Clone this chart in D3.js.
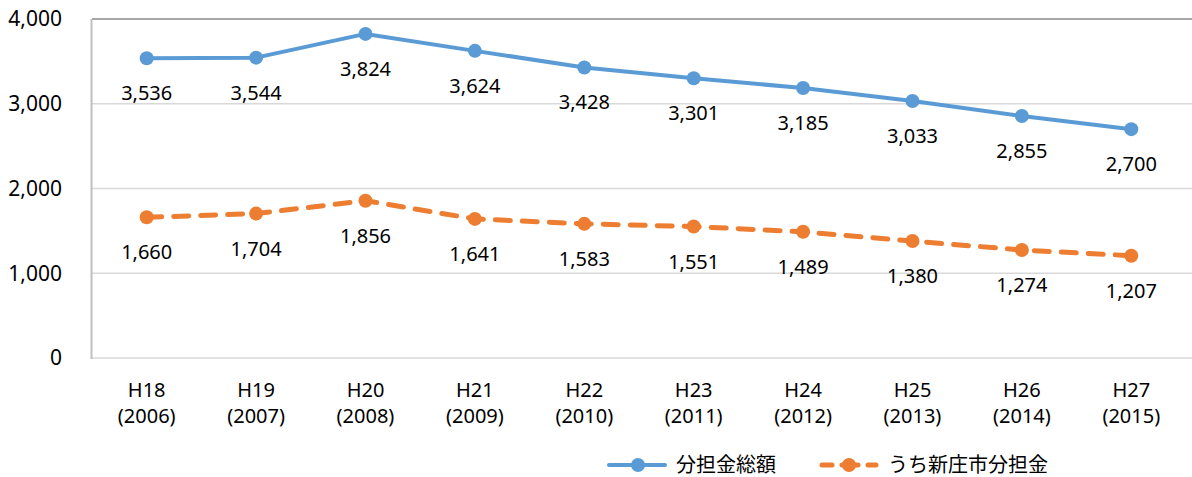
<!DOCTYPE html>
<html>
<head>
<meta charset="utf-8">
<script src="https://cdn.jsdelivr.net/npm/d3@7"></script>
<style>
  html, body { margin: 0; padding: 0; background: #fff; }
  svg text { font-family: "Noto Sans", "Noto Sans CJK JP", sans-serif; fill: #000; }
</style>
</head>
<body>
<div id="vis"></div>
<script>
// Line chart: total burden vs Shinjo city share, H18–H27.

const YEARS  = ["H18", "H19", "H20", "H21", "H22", "H23", "H24", "H25", "H26", "H27"];
const WESTERN = ["2006", "2007", "2008", "2009", "2010", "2011", "2012", "2013", "2014", "2015"];
const TOTAL  = [3536, 3544, 3824, 3624, 3428, 3301, 3185, 3033, 2855, 2700];
const SHINJO = [1660, 1704, 1856, 1641, 1583, 1551, 1489, 1380, 1274, 1207];
const Y_TICKS = [0, 1000, 2000, 3000, 4000];

const SERIES = [
  { name: "分担金総額",       values: TOTAL,  color: "#5b9bd5", dash: null },
  { name: "うち新庄市分担金", values: SHINJO, color: "#ed7d31", dash: "15,12" },
];

const W = 1192, H = 477;
const margin = { top: 19, right: 6, bottom: 119, left: 92 };
const innerW = W - margin.left - margin.right;
const innerH = H - margin.top - margin.bottom;

const x = d3.scaleBand().domain(YEARS).range([0, innerW]);
const y = d3.scaleLinear().domain([0, 4000]).range([innerH, 0]);
const fmt = d3.format(",");

const svg = d3.select("#vis").append("svg")
  .attr("width", W).attr("height", H);

const g = svg.append("g")
  .attr("transform", `translate(${margin.left},${margin.top})`);

// gridlines
g.append("g").selectAll("line")
  .data(Y_TICKS)
  .join("line")
    .attr("x1", 0).attr("x2", innerW + margin.right)
    .attr("y1", d => y(d)).attr("y2", d => y(d))
    .attr("stroke", d => d === 4000 ? "#a6a6a6" : "#d9d9d9")
    .attr("stroke-width", d => d === 4000 ? 2 : 1.5);

// left axis line
g.append("line")
  .attr("x1", -0.5).attr("x2", -0.5)
  .attr("y1", y(4000)).attr("y2", y(0) + 1)
  .attr("stroke", "#bfbfbf").attr("stroke-width", 2);

// y tick labels
g.append("g").selectAll("text")
  .data(Y_TICKS)
  .join("text")
    .attr("x", -30)
    .attr("y", d => y(d))
    .attr("dy", "0.35em")
    .attr("text-anchor", "end")
    .style("font-size", "21px")
    .text(d => fmt(d));

// x tick labels
const xl = g.append("g").selectAll("text")
  .data(YEARS)
  .join("text")
    .attr("text-anchor", "middle")
    .style("font-size", "20px");
xl.append("tspan")
  .attr("x", d => x(d) + x.bandwidth() / 2)
  .attr("y", innerH + 39)
  .text(d => d);
xl.append("tspan")
  .attr("x", d => x(d) + x.bandwidth() / 2)
  .attr("y", innerH + 65)
  .text((d, i) => `(${WESTERN[i]})`);

// series
const line = d3.line()
  .x((d, i) => x(YEARS[i]) + x.bandwidth() / 2)
  .y(d => y(d));

SERIES.forEach(s => {
  g.append("path")
    .datum(s.values)
    .attr("d", line)
    .attr("fill", "none")
    .attr("stroke", s.color)
    .attr("stroke-width", s.dash ? 5 : 4)
    .attr("stroke-linecap", "round")
    .attr("stroke-linejoin", "round")
    .attr("stroke-dasharray", s.dash);

  g.append("g").selectAll("circle")
    .data(s.values)
    .join("circle")
      .attr("cx", (d, i) => x(YEARS[i]) + x.bandwidth() / 2)
      .attr("cy", d => y(d))
      .attr("r", 7)
      .attr("fill", s.color);

  g.append("g").selectAll("text")
    .data(s.values)
    .join("text")
      .attr("x", (d, i) => x(YEARS[i]) + x.bandwidth() / 2)
      .attr("y", d => y(d) + 42)
      .attr("text-anchor", "middle")
      .style("font-size", "20px")
      .text(d => fmt(d));
});

// legend
const legend = svg.append("g").attr("transform", "translate(0,465)");
const LEG_X = [607, 820];
SERIES.forEach((s, i) => {
  const lg = legend.append("g").attr("transform", `translate(${LEG_X[i]},0)`);
  if (s.dash) {
    [[2, 12], [48, 56]].forEach(([a, b]) =>
      lg.append("line").attr("x1", a).attr("x2", b).attr("y1", 0).attr("y2", 0)
        .attr("stroke", s.color).attr("stroke-width", 5).attr("stroke-linecap", "round"));
    lg.append("line").attr("x1", 22).attr("x2", 38).attr("y1", 0).attr("y2", 0)
      .attr("stroke", s.color).attr("stroke-width", 5).attr("stroke-linecap", "round");
  } else {
    lg.append("line").attr("x1", 2).attr("x2", 58).attr("y1", 0).attr("y2", 0)
      .attr("stroke", s.color).attr("stroke-width", 4).attr("stroke-linecap", "round");
  }
  lg.append("circle").attr("cx", s.dash ? 29 : 31).attr("cy", 0).attr("r", 7).attr("fill", s.color);
  lg.append("text")
    .attr("x", s.dash ? 68 : 69).attr("y", 0).attr("dy", "0.35em")
    .style("font-size", "20px")
    .text(s.name);
});
</script>
</body>
</html>
